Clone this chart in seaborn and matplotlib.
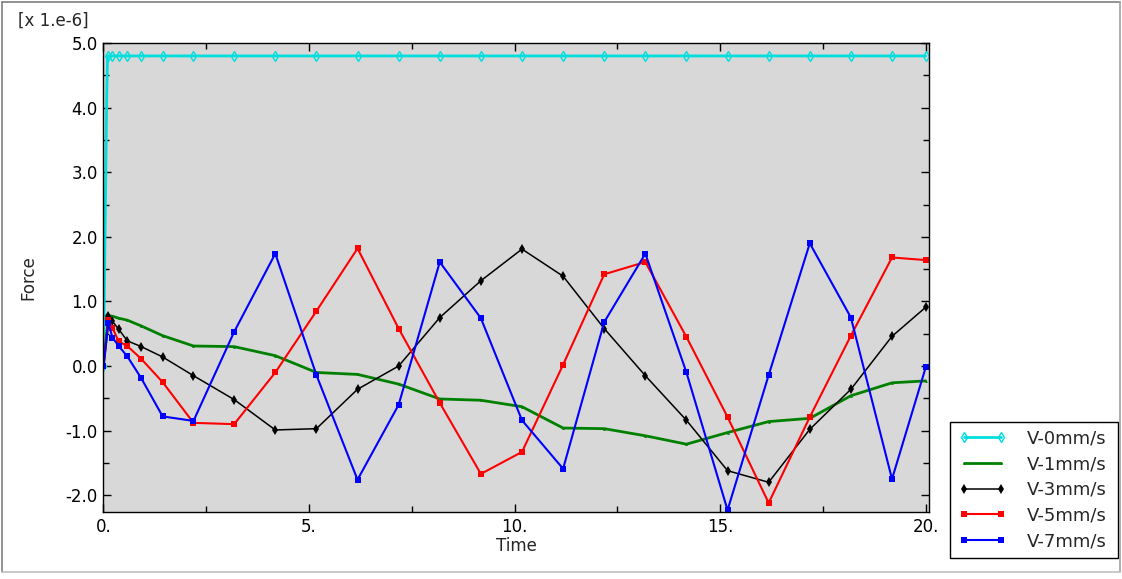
import numpy as np
import pandas as pd
import matplotlib
matplotlib.use("Agg")
import matplotlib.pyplot as plt
from matplotlib.ticker import MultipleLocator, FormatStrFormatter
import seaborn as sns

# time increments of the output (shared by all velocities)
time = [0, 0.12, 0.22, 0.37, 0.58, 0.92, 1.44, 2.19, 3.18, 4.18, 5.18, 6.18, 7.18,
        8.18, 9.18, 10.18, 11.18, 12.18, 13.18, 14.18, 15.18, 16.18, 17.18, 18.18,
        19.18, 20.0]

# V-0 has two extra early increments
time_v0 = [0, 0.08, 0.1] + time[2:]
force_v0 = [0, 4.2, 4.8] + [4.8] * (len(time) - 2)

force_v1 = [0, 0.78, 0.77, 0.74, 0.71, 0.62, 0.47, 0.31, 0.30, 0.16, -0.10, -0.13,
            -0.28, -0.51, -0.53, -0.63, -0.96, -0.97, -1.08, -1.21, -1.03, -0.86,
            -0.81, -0.46, -0.26, -0.23]
force_v3 = [0, 0.78, 0.69, 0.57, 0.39, 0.30, 0.14, -0.15, -0.52, -0.99, -0.97, -0.36,
            0.0, 0.75, 1.32, 1.81, 1.39, 0.58, -0.15, -0.84, -1.62, -1.80, -0.98,
            -0.36, 0.46, 0.91]
force_v5 = [0, 0.72, 0.59, 0.38, 0.31, 0.11, -0.25, -0.88, -0.90, -0.10, 0.85, 1.82,
            0.58, -0.57, -1.67, -1.33, 0.02, 1.42, 1.61, 0.45, -0.79, -2.12, -0.79,
            0.47, 1.68, 1.64]
force_v7 = [0, 0.66, 0.44, 0.31, 0.15, -0.19, -0.78, -0.85, 0.53, 1.74, -0.14, -1.76,
            -0.60, 1.61, 0.74, -0.84, -1.59, 0.68, 1.74, -0.10, -2.23, -0.14, 1.90,
            0.75, -1.75, -0.02]

labels = ["V-0mm/s", "V-1mm/s", "V-3mm/s", "V-5mm/s", "V-7mm/s"]

sns.set_style("ticks")
plt.rcParams['font.family'] = ['DejaVu Sans']

fig = plt.figure(figsize=(11.22, 5.79), dpi=100)
ax = fig.add_axes([0.0922, 0.1157, 0.7358, 0.81])
ax.set_facecolor("#d8d8d8")

sns.lineplot(x=time_v0, y=force_v0, ax=ax, color="#00dede", lw=2, marker="d",
             markersize=5, markerfacecolor="none", markeredgecolor="#00dede",
             markeredgewidth=1, markevery=[0] + list(range(2, len(time_v0))),
             label=labels[0])
sns.lineplot(x=time, y=force_v1, ax=ax, color="#008000", lw=2, marker="^",
             markersize=2, markeredgewidth=0, label=labels[1])
sns.lineplot(x=time, y=force_v3, ax=ax, color="black", lw=1.1, marker="d",
             markersize=5, markeredgewidth=0, label=labels[2])
sns.lineplot(x=time, y=force_v5, ax=ax, color="#ff0000", lw=1.5, marker="s",
             markersize=4.5, markeredgewidth=0, label=labels[3])
sns.lineplot(x=time, y=force_v7, ax=ax, color="#0000ff", lw=1.5, marker="s",
             markersize=4.5, markeredgewidth=0, label=labels[4])

ax.set_xlim(0, 20.08)
ax.set_ylim(-2.26, 5.0)
ax.xaxis.set_major_locator(MultipleLocator(5))
ax.xaxis.set_minor_locator(MultipleLocator(2.5))
ax.yaxis.set_major_locator(MultipleLocator(1))
ax.yaxis.set_minor_locator(MultipleLocator(0.5))
ax.xaxis.set_major_formatter(FormatStrFormatter("%d."))
ax.yaxis.set_major_formatter(FormatStrFormatter("%.1f"))
ax.tick_params(which="both", direction="in", top=True, right=True,
               labelsize=12, colors="black", width=1)
ax.tick_params(which="major", length=6, pad=4)
ax.tick_params(which="minor", length=4)
for s in ax.spines.values():
    s.set_visible(True)
    s.set_color("black")
    s.set_linewidth(1)

ax.set_xlabel("Time", fontsize=12, labelpad=1)
ax.set_ylabel("Force", fontsize=12, labelpad=20)
fig.text(0.016, 0.948, "[x 1.e-6]", fontsize=12, ha="left", va="bottom")

leg = ax.legend(loc="lower left", bbox_to_anchor=(0.8467, 0.036, 0.15, 0.235),
                bbox_transform=fig.transFigure, mode="expand", fontsize=13,
                frameon=True, fancybox=False, edgecolor="black", framealpha=1,
                numpoints=2, handlelength=2.7, labelspacing=0.42, borderpad=0.45,
                handletextpad=1.1, borderaxespad=0)
leg.get_frame().set_linewidth(1)

# outer window border
fig.add_artist(plt.Line2D([0.002, 0.998], [0.997, 0.997], color="#7f7f7f", lw=1.2))
fig.add_artist(plt.Line2D([0.002, 0.002], [0.012, 0.997], color="#7f7f7f", lw=1.2))
fig.add_artist(plt.Line2D([0.998, 0.998], [0.012, 0.997], color="#a0a0a0", lw=1.2))
fig.add_artist(plt.Line2D([0.002, 0.998], [0.012, 0.012], color="#c0c0c0", lw=1.2))

fig.savefig("out.png", dpi=100, facecolor="white")
